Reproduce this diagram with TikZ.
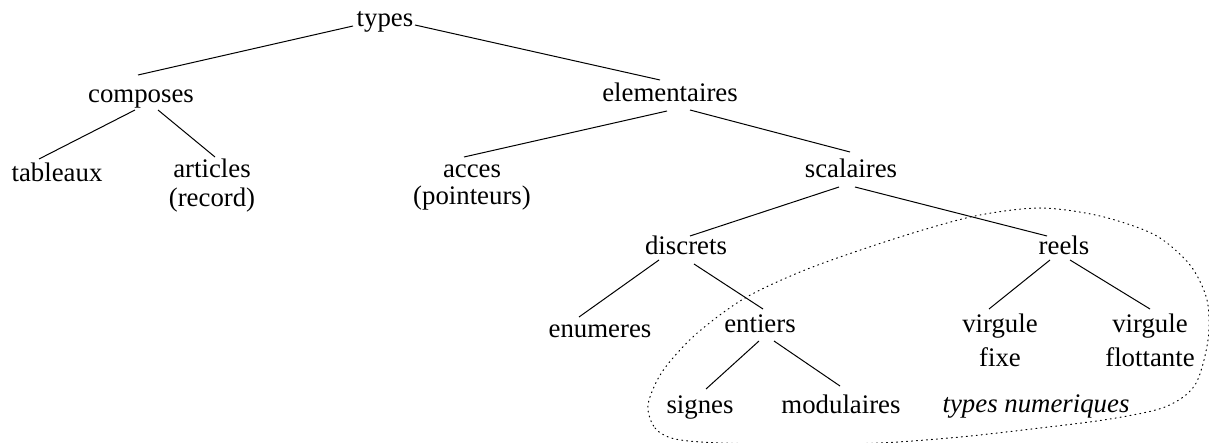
\documentclass[tikz,border=0pt]{standalone}
\usepackage{fontspec}
\setmainfont{Liberation Serif}
\begin{document}
\begin{tikzpicture}[x=0.5pt,y=-0.5pt,
  lbl/.style={anchor=base,inner sep=0pt,font=\fontsize{13.4}{16}\selectfont},
  edge/.style={line width=0.5pt},
  region/.style={line width=0.5pt,dotted,line cap=round}]
\useasboundingbox (0,0) rectangle (1209,443);

% labels of the type hierarchy
\node[lbl] (types) at (385,27) {types};
\node[lbl] (composes) at (141,103) {composes};
\node[lbl] (elementaires) at (670,102) {elementaires};
\node[lbl] (tableaux) at (57,182) {tableaux};
\node[lbl] (articles) at (212,178) {articles};
\node[lbl] (record) at (212,206) {(record)};
\node[lbl] (acces) at (472,178) {acces};
\node[lbl] (pointeurs) at (472,205) {(pointeurs)};
\node[lbl] (scalaires) at (851,178) {scalaires};
\node[lbl] (discrets) at (686,255) {discrets};
\node[lbl] (reels) at (1064,255) {reels};
\node[lbl] (enumeres) at (600,337) {enumeres};
\node[lbl] (entiers) at (760,332) {entiers};
\node[lbl] (virgfixe) at (1000,332) {virgule};
\node[lbl] (fixe) at (1000,366) {fixe};
\node[lbl] (virgflot) at (1150,332) {virgule};
\node[lbl] (flottante) at (1150,366) {flottante};
\node[lbl] (signes) at (700,413) {signes};
\node[lbl] (modulaires) at (841,413) {modulaires};
\node[lbl,font=\fontsize{13.4}{16}\selectfont\itshape] (numeriques) at (1036,412) {types numeriques};

% branches
\draw[edge] ([shift={(-32,-1)}]types.base) -- ([shift={(-3,-28)}]composes.base);
\draw[edge] ([shift={(30,-2)}]types.base) -- ([shift={(-10,-22)}]elementaires.base);
\draw[edge] ([shift={(-6,7)}]composes.base) -- ([shift={(-18,-23)}]tableaux.base);
\draw[edge] ([shift={(17,7)}]composes.base) -- ([shift={(3,-21)}]articles.base);
\draw[edge] ([shift={(-3,9)}]elementaires.base) -- ([shift={(-8,-21)}]acces.base);
\draw[edge] ([shift={(20,8)}]elementaires.base) -- ([shift={(-1,-26)}]scalaires.base);
\draw[edge] ([shift={(-12,9)}]scalaires.base) -- ([shift={(4,-19)}]discrets.base);
\draw[edge] ([shift={(4,9)}]scalaires.base) -- ([shift={(-17,-19)}]reels.base);
\draw[edge] ([shift={(-27,5)}]discrets.base) -- ([shift={(-21,-20)}]enumeres.base);
\draw[edge] ([shift={(8,9)}]discrets.base) -- ([shift={(3,-23)}]entiers.base);
\draw[edge] ([shift={(-1,9)}]entiers.base) -- ([shift={(6,-24)}]signes.base);
\draw[edge] ([shift={(14,9)}]entiers.base) -- ([shift={(-1,-27)}]modulaires.base);
\draw[edge] ([shift={(-14,5)}]reels.base) -- ([shift={(-11,-23)}]virgfixe.base);
\draw[edge] ([shift={(6,5)}]reels.base) -- ([shift={(0,-23)}]virgflot.base);

% dotted outline around the numeric types
\draw[region] plot[smooth cycle] coordinates {
  (648,405) (655,428) (675,439) (720,443) (800,444) (880,443) (960,437)
  (1040,428) (1110,419) (1165,407) (1195,385) (1208,340) (1207,300)
  (1190,265) (1155,235) (1100,216) (1040,208) (975,216) (900,237)
  (810,268) (745,298) (695,335) (662,372)};
\end{tikzpicture}
\end{document}
